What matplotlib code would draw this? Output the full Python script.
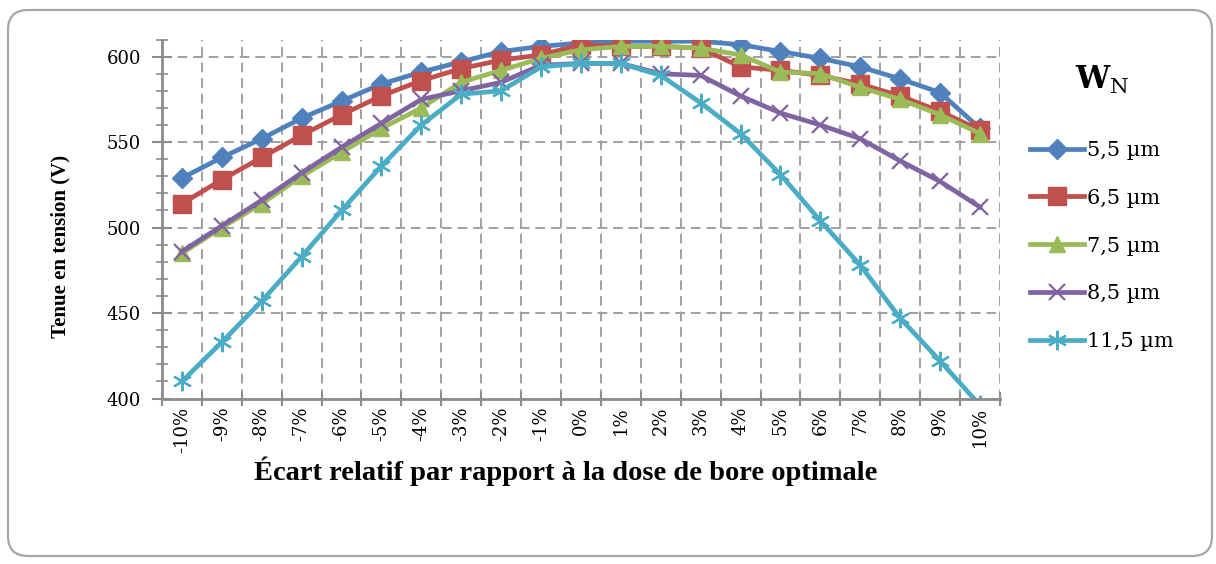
import matplotlib
matplotlib.use("Agg")
import matplotlib.pyplot as plt
from matplotlib.patches import FancyBboxPatch
from matplotlib.ticker import MultipleLocator, FixedLocator

# Tenue en tension vs. écart de dose de bore, pour plusieurs largeurs W_N
ecarts = ['-10%', '-9%', '-8%', '-7%', '-6%', '-5%', '-4%', '-3%', '-2%', '-1%', '0%',
          '1%', '2%', '3%', '4%', '5%', '6%', '7%', '8%', '9%', '10%']

w55 = [529, 541, 552, 564, 574, 584, 591, 597, 603, 606, 608,
       609, 609, 609, 607, 603, 599, 594, 587, 579, 558]
w65 = [514, 528, 541, 554, 566, 577, 586, 593, 598, 601, 607,
       606, 606, 605, 594, 592, 589, 584, 577, 568, 557]
w75 = [485, 500, 514, 530, 544, 558, 570, 585, 592, 599, 604,
       606, 606, 605, 601, 591, 590, 582, 575, 566, 555]
w85 = [486, 501, 516, 532, 547, 561, 575, 580, 585, 595, 596,
       596, 590, 589, 577, 567, 560, 552, 539, 527, 512]
w115 = [410, 433, 457, 483, 510, 536, 560, 578, 580, 594, 596,
        596, 589, 573, 555, 531, 504, 478, 447, 422, 396]

labels = ['5,5 µm', '6,5 µm', '7,5 µm', '8,5 µm', '11,5 µm']

series = [w55, w65, w75, w85, w115]
colors = ['#4F81BD', '#C0504D', '#9BBB59', '#8064A2', '#4BACC6']
markers = ['D', 's', '^', 'x', (6, 2, 0)]
msizes = [10, 13, 12, 11, 14]

plt.rcParams['mathtext.fontset'] = 'dejavuserif'

fig = plt.figure(figsize=(12.16, 5.64), dpi=100)
ax = fig.add_axes([0.1332, 0.2934, 0.6891, 0.6365])

# cadre arrondi autour du graphique (coordonnées en pouces)
cadre = FancyBboxPatch((0.08, 0.08), 12.04, 5.46,
                       boxstyle='round,pad=0,rounding_size=0.2',
                       transform=fig.dpi_scale_trans, facecolor='none',
                       edgecolor='#a6a6a6', linewidth=1.6)
fig.patches.append(cadre)

x = range(len(ecarts))
for vals, c, m, ms, lab in zip(series, colors, markers, msizes, labels):
    mew = 1.6 if m in ('x', (6, 2, 0)) else 1
    ax.plot(x, vals, color=c, lw=3.4, marker=m, markersize=ms,
            markerfacecolor=c, markeredgecolor=c, markeredgewidth=mew,
            label=lab, clip_on=True)

ax.set_xlim(-0.5, len(ecarts) - 0.5)
ax.set_ylim(400, 610)

ax.yaxis.set_major_locator(FixedLocator([400, 450, 500, 550, 600]))
ax.yaxis.set_minor_locator(MultipleLocator(10))
ax.set_xticks(list(x))
ax.set_xticklabels(ecarts, rotation=90, fontfamily='DejaVu Serif', fontsize=13)
ax.xaxis.set_minor_locator(FixedLocator([i - 0.5 for i in range(len(ecarts) + 1)]))
for t in ax.get_yticklabels():
    t.set_fontfamily('DejaVu Serif')
    t.set_fontsize(13)

axe_gris = '#8c8c8c'
ax.tick_params(axis='x', which='major', length=0, pad=6)
ax.tick_params(axis='x', which='minor', direction='inout', length=10, width=1.5, color=axe_gris)
ax.tick_params(axis='y', which='major', direction='inout', length=14, width=1.5,
               color=axe_gris, pad=8)
ax.tick_params(axis='y', which='minor', direction='inout', length=9, width=1.2, color=axe_gris)

ax.grid(True, axis='y', which='major', linestyle=(0, (5, 3)), color='#a0a0a0', lw=1.4)
ax.grid(True, axis='x', which='minor', linestyle=(0, (5, 3)), color='#a0a0a0', lw=1.4)
ax.set_axisbelow(True)

for s in ('top', 'right'):
    ax.spines[s].set_visible(False)
for s in ('left', 'bottom'):
    ax.spines[s].set_color(axe_gris)
    ax.spines[s].set_linewidth(2)

fig.text(60 / 1216, 1 - 246 / 564, 'Tenue en tension (V)', rotation=90,
         ha='center', va='center', fontfamily='Liberation Serif', fontweight='bold', fontsize=15)
fig.text(566 / 1216, 1 - 471 / 564, 'Écart relatif par rapport à la dose de bore optimale',
         ha='center', va='center', fontfamily='Liberation Serif', fontweight='bold', fontsize=20.5)

fig.text(1102 / 1216, 1 - 80 / 564, r'$\mathbf{W}_{\mathrm{N}}$', ha='center', va='center',
         fontsize=22)
fig.legend(loc='upper left', bbox_to_anchor=(1030 / 1216, 1 - 141 / 564), frameon=False,
           prop={'family': 'DejaVu Serif', 'size': 15}, handlelength=2.6,
           handletextpad=0.15, labelspacing=1.38, borderaxespad=0, borderpad=0)

fig.savefig('out.png', dpi=100)
